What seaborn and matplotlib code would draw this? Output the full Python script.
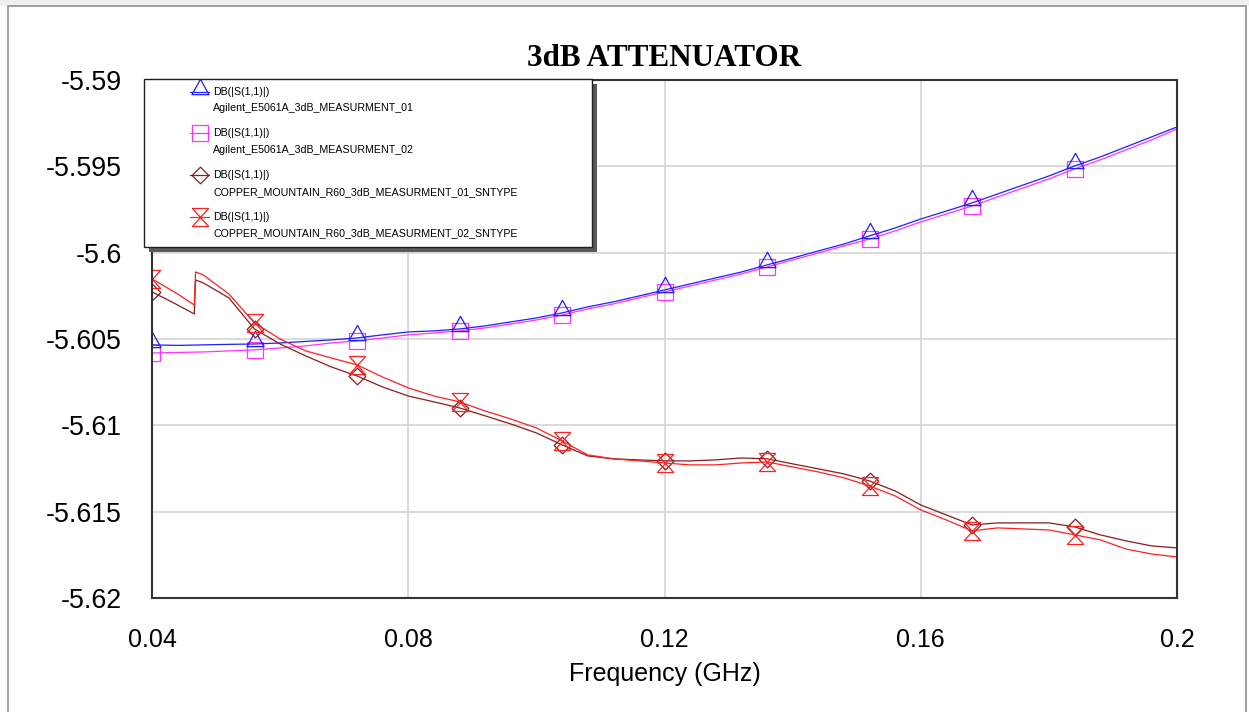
import numpy as np
import pandas as pd
import matplotlib
matplotlib.use("Agg")
import matplotlib.pyplot as plt
import seaborn as sns
from matplotlib.path import Path
from matplotlib.lines import Line2D
from matplotlib.patches import Rectangle

# ---------------- data ----------------
freq_agilent = np.round(np.arange(0.040, 0.2001, 0.004), 3)
freq_copper = [0.040, 0.044, 0.0466, 0.0468, 0.048, 0.052] + list(np.round(np.arange(0.056, 0.2001, 0.004), 3))

s11_agilent_01 = [-5.60534, -5.60537, -5.60534, -5.60531, -5.60529, -5.60523, -5.60514, -5.60505, -5.60494,
                  -5.60476, -5.60459, -5.60453, -5.60442, -5.60424, -5.60401, -5.60378, -5.60349, -5.60314,
                  -5.60285, -5.60251, -5.60216, -5.60181, -5.60146, -5.60112, -5.60071, -5.60031, -5.59990,
                  -5.59950, -5.59903, -5.59857, -5.59805, -5.59759, -5.59712, -5.59660, -5.59608, -5.59556,
                  -5.59498, -5.59446, -5.59388, -5.59330, -5.59272]
s11_agilent_02 = [-5.60581, -5.60578, -5.60575, -5.60569, -5.60563, -5.60552, -5.60540, -5.60523, -5.60511,
                  -5.60494, -5.60476, -5.60465, -5.60453, -5.60436, -5.60413, -5.60390, -5.60361, -5.60326,
                  -5.60297, -5.60262, -5.60227, -5.60193, -5.60158, -5.60123, -5.60083, -5.60042, -5.60002,
                  -5.59961, -5.59921, -5.59874, -5.59822, -5.59776, -5.59730, -5.59677, -5.59625, -5.59573,
                  -5.59515, -5.59463, -5.59405, -5.59347, -5.59284]
s11_copper_01 = [-5.60227, -5.60303, -5.60355, -5.60158, -5.60175, -5.60262, -5.60442, -5.60529, -5.60598,
                 -5.60662, -5.60714, -5.60778, -5.60830, -5.60864, -5.60899, -5.60945, -5.60992, -5.61044,
                 -5.61113, -5.61177, -5.61194, -5.61200, -5.61206, -5.61206, -5.61200, -5.61189, -5.61194,
                 -5.61223, -5.61252, -5.61281, -5.61322, -5.61380, -5.61461, -5.61519, -5.61577, -5.61565,
                 -5.61565, -5.61565, -5.61588, -5.61634, -5.61669, -5.61698, -5.61710]
s11_copper_02 = [-5.60152, -5.60239, -5.60303, -5.60112, -5.60129, -5.60239, -5.60407, -5.60500, -5.60569,
                 -5.60610, -5.60650, -5.60720, -5.60783, -5.60830, -5.60864, -5.60917, -5.60963, -5.61015,
                 -5.61090, -5.61171, -5.61194, -5.61206, -5.61218, -5.61229, -5.61229, -5.61218, -5.61212,
                 -5.61241, -5.61270, -5.61304, -5.61351, -5.61409, -5.61490, -5.61548, -5.61611, -5.61594,
                 -5.61600, -5.61606, -5.61634, -5.61663, -5.61716, -5.61745, -5.61762]

marker_freqs = [0.040, 0.056, 0.072, 0.088, 0.104, 0.120, 0.136, 0.152, 0.168, 0.184]

trace_title = "DB(|S(1,1)|)"
series_names = ["Agilent_E5061A_3dB_MEASURMENT_01",
                "Agilent_E5061A_3dB_MEASURMENT_02",
                "COPPER_MOUNTAIN_R60_3dB_MEASURMENT_01_SNTYPE",
                "COPPER_MOUNTAIN_R60_3dB_MEASURMENT_02_SNTYPE"]

x_ticks = [0.04, 0.08, 0.12, 0.16, 0.2]
x_tick_labels = ["0.04", "0.08", "0.12", "0.16", "0.2"]
y_ticks = [-5.59, -5.595, -5.6, -5.605, -5.61, -5.615, -5.62]
y_tick_labels = ["-5.59", "-5.595", "-5.6", "-5.605", "-5.61", "-5.615", "-5.62"]

chart_title = "3dB ATTENUATOR"
x_label = "Frequency (GHz)"

# ---------------- style ----------------
sns.set_style("white")
plt.rcParams['font.family'] = ['Liberation Sans', 'DejaVu Sans']
plt.rcParams['text.color'] = 'black'
plt.rcParams['axes.labelcolor'] = 'black'

TRI = Path([(-1, -0.25), (1, -0.25), (0, 1.55), (-1, -0.25)],
           [Path.MOVETO, Path.LINETO, Path.LINETO, Path.CLOSEPOLY])
DIAM = Path([(0, 1), (1, 0), (0, -1), (-1, 0), (0, 1)],
            [Path.MOVETO, Path.LINETO, Path.LINETO, Path.LINETO, Path.CLOSEPOLY])
HOUR = Path([(-0.9, 1), (0.9, 1), (-0.9, -1), (0.9, -1), (-0.9, 1)],
            [Path.MOVETO, Path.LINETO, Path.LINETO, Path.LINETO, Path.CLOSEPOLY])

series = [
    (freq_agilent, s11_agilent_01, "#1f1fff", TRI, 19),
    (freq_agilent, s11_agilent_02, "#ff33ff", "s", 11.5),
    (freq_copper, s11_copper_01, "#8b1c1c", DIAM, 12),
    (freq_copper, s11_copper_02, "#ff2020", HOUR, 13),
]

W, H = 1249, 712
fig = plt.figure(figsize=(W / 100, H / 100), dpi=100)
fig.patch.set_facecolor("white")
ax = fig.add_axes([152 / W, 1 - 598 / H, 1025 / W, 518 / H])

def fx(px):
    return px / W

def fy(py):
    return 1 - py / H

draw_order = [1, 0, 2, 3]
for i in draw_order:
    fr, vals, col, mk, ms = series[i]
    df = pd.DataFrame({"freq": fr, "s11": vals})
    sns.lineplot(data=df, x="freq", y="s11", color=col, lw=0.9, ax=ax,
                 estimator=None, sort=False, legend=False)
    sel = np.isclose(df["freq"].values[:, None], np.array(marker_freqs)[None, :]).any(axis=1)
    m = df[sel]
    ax.plot(m["freq"], m["s11"], ls="none", marker=mk, ms=ms, mfc="none", mec=col, mew=0.9)

ax.set_xlim(0.04, 0.2)
ax.set_ylim(-5.62, -5.59)
ax.set_xticks(x_ticks)
ax.set_xticklabels(x_tick_labels)
ax.set_yticks(y_ticks)
ax.set_yticklabels(y_tick_labels)
ax.tick_params(length=0, pad=21.6, colors="black")
ax.tick_params(axis="x", labelsize=18)
ax.tick_params(axis="y", labelsize=19.3)
ax.grid(True, color="#d4d4d4", lw=1.2)
ax.set_axisbelow(True)
ax.set_xlabel(x_label, fontsize=18, labelpad=7, color="black")
ax.set_ylabel("")
for s in ax.spines.values():
    s.set_color("#333333")
    s.set_linewidth(1.5)
ax.set_title(chart_title, fontfamily="Liberation Serif", fontweight="bold", fontsize=22.4,
             pad=10, color="black")

# outer page frame
fig.add_artist(Rectangle((0, fy(6)), 1, 6 / H, transform=fig.transFigure,
                         facecolor="#efefef", edgecolor="none", zorder=0))
fig.add_artist(Rectangle((fx(8), -0.01), fx(1246 - 8), fy(6) + 0.01, transform=fig.transFigure,
                         facecolor="none", edgecolor="#909090", lw=1.2, zorder=0.5))

# legend box (manual, as in the original)
lx, ly, lw_, lh = 144, 79, 448, 168
fig.add_artist(Rectangle((fx(lx + 5), fy(ly + lh + 5)), lw_ / W, lh / H, transform=fig.transFigure,
                         facecolor="#5a5a5a", edgecolor="none", zorder=5))
fig.add_artist(Rectangle((fx(lx), fy(ly + lh)), lw_ / W, lh / H, transform=fig.transFigure,
                         facecolor="white", edgecolor="#222222", lw=1.0, zorder=6))
for i, (fr, vals, col, mk, ms) in enumerate(series):
    y1 = 91.7 + 41.7 * i
    y2 = y1 + 16.7
    h = Line2D([fx(190), fx(199.5), fx(209)], [fy(y1)] * 3, transform=fig.transFigure,
               color=col, lw=0.9, marker=mk, markevery=[1], ms=ms, mfc="none", mec=col,
               mew=0.9, zorder=7)
    fig.add_artist(h)
    fig.text(fx(213), fy(y1), trace_title, fontsize=7.7, va="center", ha="left", zorder=7)
    fig.text(fx(213), fy(y2), series_names[i], fontsize=7.7, va="center", ha="left", zorder=7)

fig.savefig("out.png", dpi=100)
